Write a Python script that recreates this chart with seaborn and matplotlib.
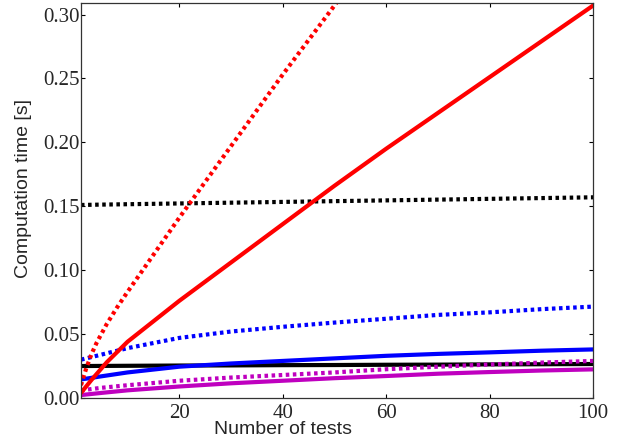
import numpy as np
import pandas as pd
import seaborn as sns
import matplotlib
matplotlib.use('Agg')
import matplotlib.pyplot as plt

# number of tests (x) shared by most series
x_tests = [1, 5, 10, 20, 30, 40, 50, 60, 70, 80, 90, 100]

black_dotted = [0.151, 0.1513, 0.1516, 0.1522, 0.1528, 0.1534, 0.154, 0.1546, 0.1552, 0.1558, 0.1564, 0.157]
black_solid = [0.025, 0.0251, 0.0252, 0.0254, 0.0255, 0.0257, 0.0258, 0.026, 0.0261, 0.0263, 0.0264, 0.0266]
blue_dotted = [0.030, 0.034, 0.039, 0.047, 0.052, 0.0557, 0.059, 0.062, 0.065, 0.067, 0.0695, 0.0715]
blue_solid = [0.0145, 0.017, 0.020, 0.0245, 0.027, 0.029, 0.031, 0.033, 0.0345, 0.0357, 0.037, 0.038]
magenta_dotted = [0.006, 0.008, 0.010, 0.0135, 0.016, 0.018, 0.020, 0.0225, 0.0245, 0.0262, 0.0277, 0.029]
magenta_solid = [0.0023, 0.004, 0.006, 0.009, 0.0115, 0.0135, 0.0155, 0.0172, 0.019, 0.0203, 0.0215, 0.0224]

x_red_dotted = [1, 2, 3, 4, 6, 8, 10, 15, 20, 25, 30, 35, 40, 45, 50, 55]
red_dotted = [0.010, 0.023, 0.034, 0.043, 0.058, 0.071, 0.083, 0.112, 0.141, 0.169, 0.197, 0.225, 0.253, 0.280, 0.307, 0.335]

x_red_solid = [1, 3, 6, 10, 15, 20, 30, 40, 50, 60, 70, 80, 90, 100]
red_solid = [0.004, 0.014, 0.028, 0.044, 0.060, 0.076, 0.106, 0.136, 0.166, 0.195, 0.223, 0.251, 0.279, 0.307]

x_ticks = [20, 40, 60, 80, 100]
y_ticks = [0.00, 0.05, 0.10, 0.15, 0.20, 0.25, 0.30]

sns.set_style('white')
plt.rcParams['font.family'] = ['Liberation Sans', 'DejaVu Sans']

fig = plt.figure(figsize=(6.21, 4.44), dpi=100)
ax = fig.add_axes([0.1304, 0.1036, 0.8246, 0.8896])

dots = (0, (0.85, 0.85))
lw = 3.0
series = [
    (x_tests, black_dotted, 'black', dots),
    (x_tests, black_solid, 'black', '-'),
    (x_tests, blue_dotted, '#0000ff', dots),
    (x_tests, blue_solid, '#0000ff', '-'),
    (x_tests, magenta_dotted, '#bf00bf', dots),
    (x_tests, magenta_solid, '#bf00bf', '-'),
    (x_red_dotted, red_dotted, '#ff0000', dots),
    (x_red_solid, red_solid, '#ff0000', '-'),
]
for xs, ys, col, ls in series:
    sns.lineplot(x=xs, y=ys, ax=ax, color=col, linestyle=ls, lw=lw)

ax.set_xlim(1, 100)
ax.set_ylim(0, 0.309)
ax.set_xticks(x_ticks)
ax.set_yticks(y_ticks)
ax.set_yticklabels(['%.2f' % v for v in y_ticks])

for lab in ax.get_xticklabels() + ax.get_yticklabels():
    lab.set_fontfamily('Liberation Serif')
    lab.set_fontsize(15)

ax.tick_params(direction='in', length=3, width=0.8, color='black',
               top=True, right=True, bottom=True, left=True)
ax.tick_params(axis='y', pad=1)
ax.tick_params(axis='x', pad=4)
for sp in ax.spines.values():
    sp.set_color('#333333')
    sp.set_linewidth(0.9)

ax.set_xlabel('Number of tests', fontsize=14)
ax.set_ylabel('Computation time [s]', fontsize=14)
ax.xaxis.set_label_coords(0.395, -0.058)
ax.yaxis.set_label_coords(-0.095, 0.53)

fig.savefig('out.png', dpi=100)
